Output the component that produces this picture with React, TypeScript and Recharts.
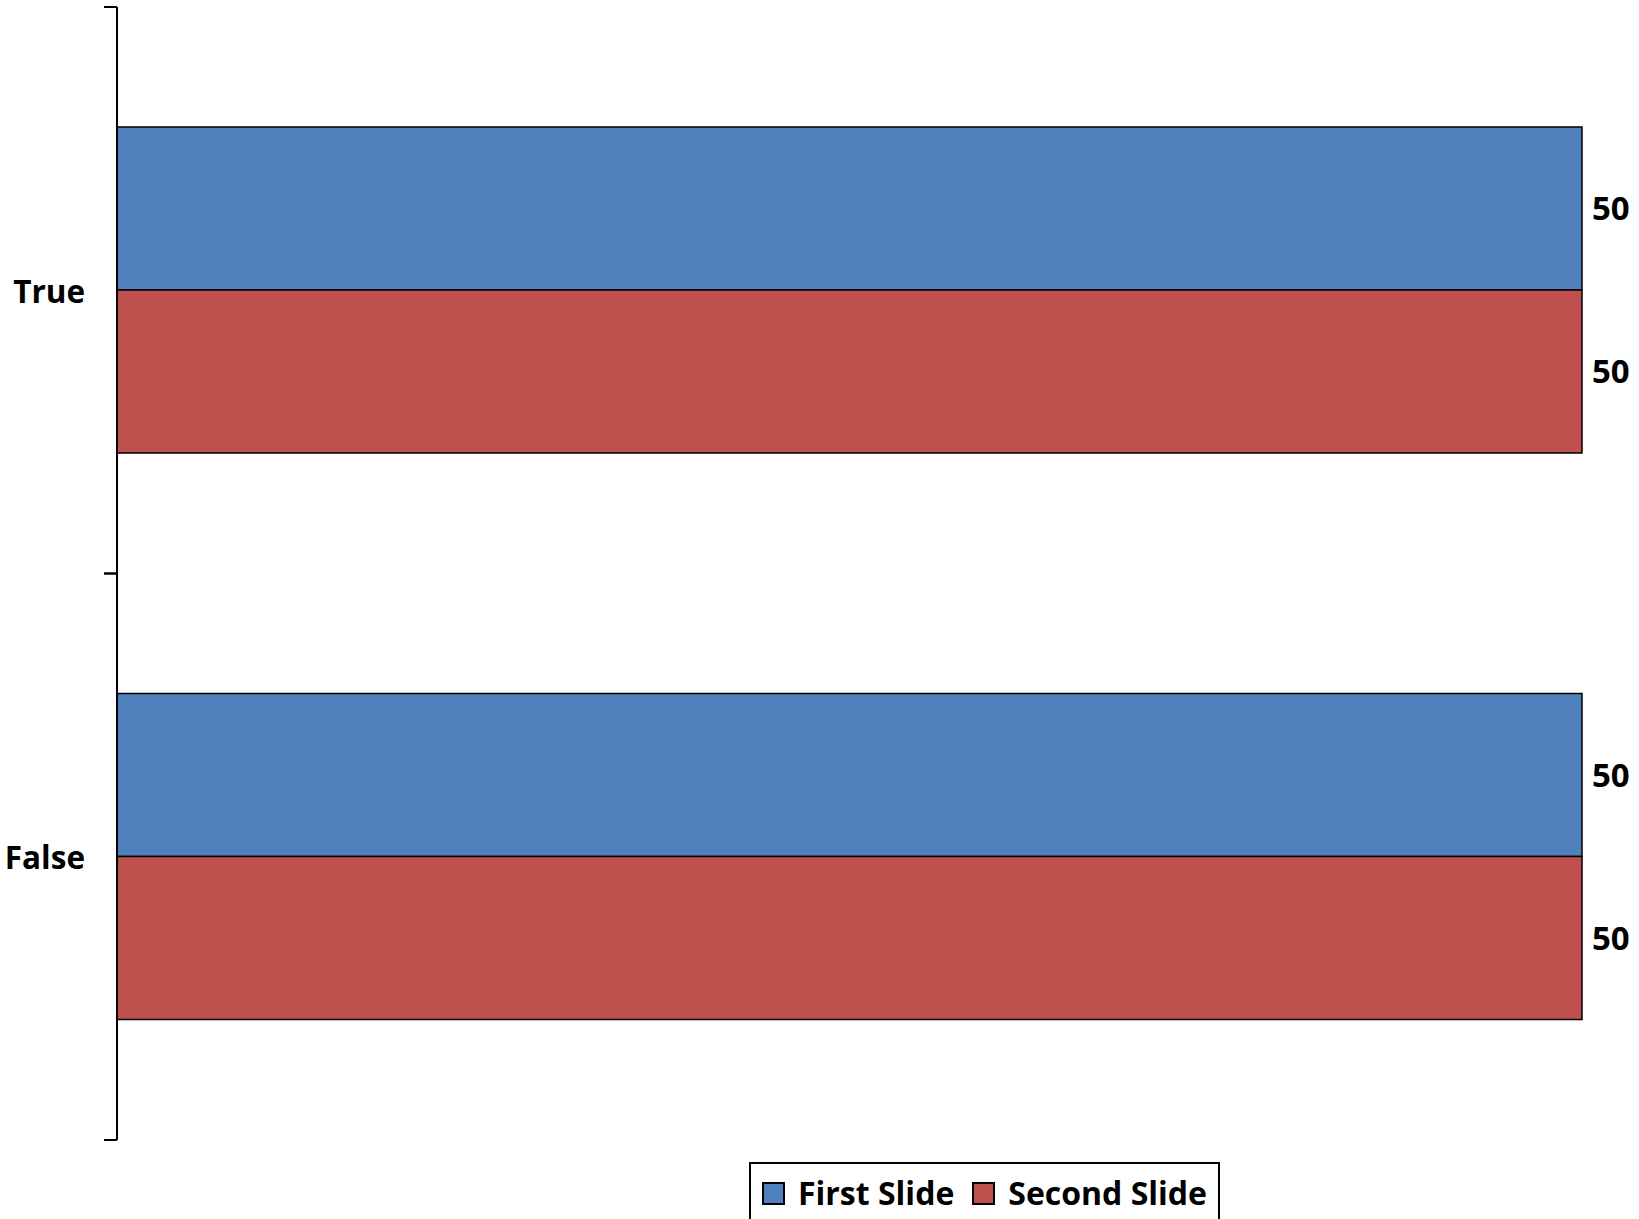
import React from "react";
import { BarChart, Bar, XAxis, YAxis, LabelList, Legend } from "recharts";

const categories = ["True", "False"];
const firstSlide = [50, 50];
const secondSlide = [50, 50];
const seriesNames = ["First Slide", "Second Slide"];
const seriesColors = ["#4F81BD", "#C0504D"];

const data = categories.map((c, i) => ({
  name: c,
  first: firstSlide[i],
  second: secondSlide[i],
}));

const W = 1639;
const H = 1219;
const M = { top: 7, right: 57, bottom: 79, left: 0 };
const Y_W = 117;
const FONT = "'Open Sans', Lato, sans-serif";
const bandSize = (H - M.top - M.bottom) / categories.length;

const CatTick = (props: any) => {
  const { y, payload } = props;
  const ax = Y_W;
  return (
    <g>
      <line x1={ax - 13} x2={ax} y1={y - bandSize / 2} y2={y - bandSize / 2} stroke="#000" strokeWidth={2} />
      <line x1={ax - 13} x2={ax} y1={y + bandSize / 2} y2={y + bandSize / 2} stroke="#000" strokeWidth={2} />
      <text x={85} y={y + 4} textAnchor="end" dominantBaseline="middle" fontFamily={FONT} fontWeight="bold" fontSize={31.5} fill="#000">
        {payload.value}
      </text>
    </g>
  );
};

const LegendContent = () => (
  <div
    style={{
      border: "2px solid #000",
      boxSizing: "border-box",
      height: 62,
      display: "flex",
      alignItems: "flex-start",
      paddingTop: 15,
      paddingLeft: 11,
      fontFamily: FONT,
      fontWeight: "bold",
      fontSize: 32,
      lineHeight: "28px",
      color: "#000",
      background: "#fff",
      whiteSpace: "nowrap",
    }}
  >
    {seriesNames.map((n, i) => (
      <div key={n} style={{ display: "flex", alignItems: "center", marginRight: 18 }}>
        <span
          style={{
            display: "inline-block",
            width: 19,
            height: 19,
            background: seriesColors[i],
            border: "2px solid #000",
            marginRight: 13,
          }}
        />
        <span>{n}</span>
      </div>
    ))}
  </div>
);

export default function App() {
  return (
    <div style={{ position: "absolute", left: 0, top: 0, width: W, height: H, background: "#fff", overflow: "hidden" }}>
      <BarChart
        width={W}
        height={H}
        data={data}
        layout="vertical"
        margin={M}
        barCategoryGap="21.2%"
        barGap={0}
      >
        <XAxis type="number" domain={[0, 50]} hide />
        <YAxis
          type="category"
          dataKey="name"
          width={Y_W}
          axisLine={{ stroke: "#000", strokeWidth: 2 }}
          tickLine={false}
          tick={<CatTick />}
          interval={0}
        />
        <Legend
          layout="horizontal"
          verticalAlign="middle"
          align="center"
          content={<LegendContent />}
          wrapperStyle={{ left: 749, top: 1162, bottom: "auto", width: 471 }}
        />
        <Bar dataKey="first" name={seriesNames[0]} fill={seriesColors[0]} stroke="#000" strokeWidth={1.5} isAnimationActive={false}>
          <LabelList dataKey="first" position="right" offset={10} fill="#000" fontFamily={FONT} fontWeight="bold" fontSize={33} />
        </Bar>
        <Bar dataKey="second" name={seriesNames[1]} fill={seriesColors[1]} stroke="#000" strokeWidth={1.5} isAnimationActive={false}>
          <LabelList dataKey="second" position="right" offset={10} fill="#000" fontFamily={FONT} fontWeight="bold" fontSize={33} />
        </Bar>
      </BarChart>
    </div>
  );
}
